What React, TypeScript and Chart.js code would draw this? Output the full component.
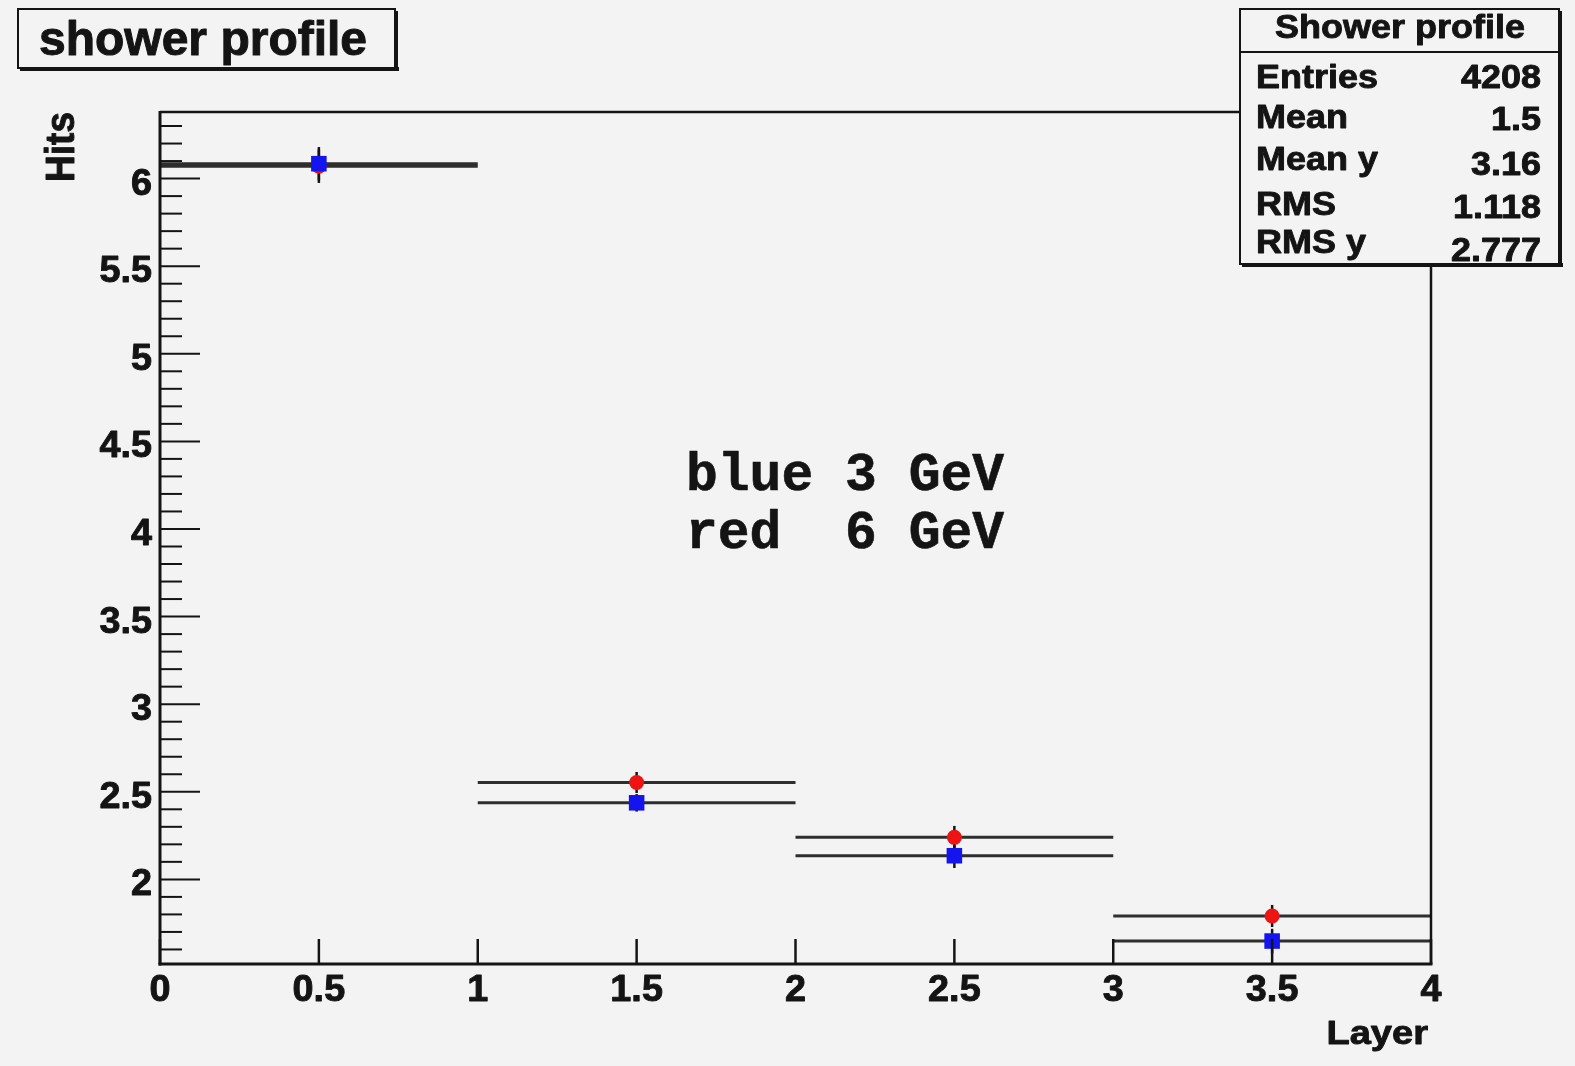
import { useEffect, useRef } from 'react';
import { Chart, registerables } from 'chart.js';

Chart.register(...registerables);

// ---- data ----
const binEdges = [0, 1, 2, 3, 4];
const layers = [0.5, 1.5, 2.5, 3.5];
const blueHits = [6.085, 2.437, 2.135, 1.648]; // 3 GeV
const redHits = [6.07, 2.553, 2.24, 1.791]; // 6 GeV
const blueErrors = [0.095, 0.05, 0.07, 0.07];
const redErrors = [0.095, 0.06, 0.065, 0.063];

const xTickValues = [0, 0.5, 1, 1.5, 2, 2.5, 3, 3.5, 4];
const xTickLabels = ['0', '0.5', '1', '1.5', '2', '2.5', '3', '3.5', '4'];
const yTickValues = [2, 2.5, 3, 3.5, 4, 4.5, 5, 5.5, 6];
const yTickLabels = ['2', '2.5', '3', '3.5', '4', '4.5', '5', '5.5', '6'];
const yMinorTicks = [
  1.6, 1.7, 1.8, 1.9, 2.1, 2.2, 2.3, 2.4, 2.6, 2.7, 2.8, 2.9, 3.1, 3.2, 3.3, 3.4,
  3.6, 3.7, 3.8, 3.9, 4.1, 4.2, 4.3, 4.4, 4.6, 4.7, 4.8, 4.9, 5.1, 5.2, 5.3, 5.4,
  5.6, 5.7, 5.8, 5.9, 6.1, 6.2, 6.3,
];
const xMin = 0;
const xMax = 4;
const yMin = 1.517;
const yMax = 6.38;

const chartTitle = 'shower profile';
const xAxisTitle = 'Layer';
const yAxisTitle = 'Hits';
const statsTitle = 'Shower profile';
const statsLabels = ['Entries', 'Mean', 'Mean y', 'RMS', 'RMS y'];
const statsValues = ['4208', '1.5', '3.16', '1.118', '2.777'];
const annotationLines = ['blue 3 GeV', 'red  6 GeV'];

const BG = '#f3f3f3';
const INK = '#141414';
const SANS = '"Liberation Sans", Arial, Helvetica, sans-serif';
const MONO = '"Liberation Mono", "Courier New", monospace';

function stepData(vals: number[]) {
  const pts: { x: number; y: number | null }[] = [];
  vals.forEach((v, i) => {
    pts.push({ x: binEdges[i], y: v }, { x: binEdges[i + 1], y: v });
    if (i < vals.length - 1) pts.push({ x: binEdges[i + 1], y: null });
  });
  return pts;
}

function pointData(vals: number[]) {
  return vals.map((v, i) => ({ x: layers[i], y: v }));
}

function txt(
  ctx: CanvasRenderingContext2D,
  s: string,
  x: number,
  y: number,
  font: string,
  align: CanvasTextAlign,
  sx = 1,
  rot = 0,
  heavy = 0.9,
) {
  ctx.save();
  ctx.translate(x, y);
  ctx.scale(sx, 1);
  if (rot) ctx.rotate(rot);
  ctx.font = font;
  ctx.textAlign = align;
  ctx.textBaseline = 'alphabetic';
  ctx.fillStyle = INK;
  ctx.fillText(s, 0, 0);
  if (heavy > 0) {
    ctx.lineWidth = heavy;
    ctx.strokeStyle = INK;
    ctx.lineJoin = 'round';
    ctx.strokeText(s, 0, 0);
  }
  ctx.restore();
}

function line(ctx: CanvasRenderingContext2D, x1: number, y1: number, x2: number, y2: number, w: number) {
  ctx.beginPath();
  ctx.lineWidth = w;
  ctx.strokeStyle = INK;
  ctx.moveTo(x1, y1);
  ctx.lineTo(x2, y2);
  ctx.stroke();
}

function pave(ctx: CanvasRenderingContext2D, x1: number, y1: number, x2: number, y2: number) {
  ctx.fillStyle = BG;
  ctx.fillRect(x1, y1, x2 - x1, y2 - y1);
  ctx.fillStyle = INK;
  // shadow on the right and bottom
  ctx.fillRect(x2 - 1, y1 + 2, 4, y2 - y1 + 1);
  ctx.fillRect(x1 + 2, y2 - 1, x2 - x1 + 2, 4);
  ctx.lineWidth = 2;
  ctx.strokeStyle = INK;
  ctx.strokeRect(x1, y1, x2 - x1, y2 - y1);
}

const rootPlugin = {
  id: 'rootStyle',
  beforeDraw(chart: any) {
    const ctx = chart.ctx as CanvasRenderingContext2D;
    ctx.save();
    ctx.fillStyle = BG;
    ctx.fillRect(0, 0, chart.width, chart.height);
    ctx.restore();
  },
  beforeDatasetsDraw(chart: any) {
    const ctx = chart.ctx as CanvasRenderingContext2D;
    const xs = chart.scales.x;
    const ys = chart.scales.y;
    ctx.save();
    const series: [number[], number[]][] = [
      [redHits, redErrors],
      [blueHits, blueErrors],
    ];
    series.forEach(([vals, errs]) => {
      vals.forEach((v, i) => {
        const px = xs.getPixelForValue(layers[i]);
        line(ctx, px, ys.getPixelForValue(v + errs[i]), px, ys.getPixelForValue(v - errs[i]), 2.5);
      });
    });
    ctx.restore();
  },
  afterDatasetsDraw(chart: any) {
    const ctx = chart.ctx as CanvasRenderingContext2D;
    const xs = chart.scales.x;
    const ys = chart.scales.y;
    const L = xs.getPixelForValue(xMin);
    const R = xs.getPixelForValue(xMax);
    const T = ys.getPixelForValue(yMax);
    const B = ys.getPixelForValue(yMin);
    ctx.save();
    ctx.lineCap = 'butt';

    // frame
    line(ctx, L, T, R, T, 2.5);
    line(ctx, R, T, R, B, 2.5);
    line(ctx, L, T - 1, L, B + 1.5, 3);
    line(ctx, L - 1.5, B, R + 1.5, B, 3);

    // y ticks
    yTickValues.forEach((v) => {
      const py = ys.getPixelForValue(v);
      line(ctx, L, py, L + 40, py, 2);
    });
    yMinorTicks.forEach((v) => {
      const py = ys.getPixelForValue(v);
      line(ctx, L, py, L + 22, py, 2);
    });
    // x ticks
    xTickValues.forEach((v) => {
      const px = xs.getPixelForValue(v);
      line(ctx, px, B, px, B - 25, 2.5);
    });

    // tick labels
    const tickFont = `bold 36px ${SANS}`;
    yTickValues.forEach((v, i) => {
      txt(ctx, yTickLabels[i], L - 8, ys.getPixelForValue(v) + 16, tickFont, 'right', 1.05);
    });
    xTickValues.forEach((v, i) => {
      txt(ctx, xTickLabels[i], xs.getPixelForValue(v), B + 37, tickFont, 'center', 1.05);
    });

    // axis titles
    txt(ctx, xAxisTitle, R - 3, B + 80, `bold 34px ${SANS}`, 'right', 1.12);
    txt(ctx, yAxisTitle, 74, T, `bold 37px ${SANS}`, 'right', 1.08, -Math.PI / 2);

    // annotation
    const monoFont = `bold 53px ${MONO}`;
    txt(ctx, annotationLines[0], 686, 490, monoFont, 'left', 1, 0, 0.6);
    txt(ctx, annotationLines[1], 686, 548, monoFont, 'left', 1, 0, 0.6);

    // title pave
    pave(ctx, 18, 9, 395, 68);
    txt(ctx, chartTitle, 39, 55, `bold 48px ${SANS}`, 'left', 1, 0, 1);

    // stats pave
    pave(ctx, 1240, 9, 1559, 264);
    line(ctx, 1240, 52, 1559, 52, 2);
    const statFont = `bold 33px ${SANS}`;
    txt(ctx, statsTitle, 1400, 38, statFont, 'center', 1.09);
    const labelBase = [88, 128, 170, 215, 253];
    const valueBase = [88, 130, 175, 218, 261];
    statsLabels.forEach((s, i) => txt(ctx, s, 1256, labelBase[i], statFont, 'left', 1.09));
    statsValues.forEach((s, i) => txt(ctx, s, 1541, valueBase[i], statFont, 'right', 1.09));

    ctx.restore();
  },
};

export default function App() {
  const ref = useRef<HTMLCanvasElement | null>(null);

  useEffect(() => {
    if (!ref.current) return;
    const chart = new Chart(ref.current, {
      type: 'line',
      data: {
        datasets: [
          {
            label: 'red 6 GeV (hist)',
            data: stepData(redHits),
            borderColor: '#2e2e2e',
            borderWidth: 3,
            pointRadius: 0,
            fill: false,
            tension: 0,
            spanGaps: false,
            order: 4,
          },
          {
            label: 'blue 3 GeV (hist)',
            data: stepData(blueHits),
            borderColor: '#2e2e2e',
            borderWidth: 3,
            pointRadius: 0,
            fill: false,
            tension: 0,
            spanGaps: false,
            order: 3,
          },
          {
            label: 'red 6 GeV',
            data: pointData(redHits),
            showLine: false,
            pointStyle: 'circle',
            pointRadius: 7.5,
            pointBorderWidth: 0,
            pointBackgroundColor: '#ee1414',
            borderColor: '#ee1414',
            order: 2,
          },
          {
            label: 'blue 3 GeV',
            data: pointData(blueHits),
            showLine: false,
            pointStyle: 'rect',
            pointRadius: 11,
            pointBorderWidth: 0,
            pointBackgroundColor: '#1414ee',
            borderColor: '#1414ee',
            order: 1,
          },
        ],
      } as any,
      options: {
        responsive: false,
        devicePixelRatio: 1,
        animation: false,
        events: [],
        layout: { padding: { left: 160, right: 1575 - 1431, top: 112, bottom: 1066 - 964 } },
        scales: {
          x: { type: 'linear', min: xMin, max: xMax, display: false },
          y: { type: 'linear', min: yMin, max: yMax, display: false },
        },
        plugins: {
          legend: { display: false },
          tooltip: { enabled: false },
          title: { display: false },
        },
      },
      plugins: [rootPlugin],
    });
    return () => chart.destroy();
  }, []);

  return (
    <div
      style={{
        position: 'fixed',
        left: 0,
        top: 0,
        width: 1575,
        height: 1066,
        background: BG,
        overflow: 'hidden',
      }}
    >
      <canvas ref={ref} width={1575} height={1066} style={{ display: 'block', width: 1575, height: 1066 }} />
    </div>
  );
}
